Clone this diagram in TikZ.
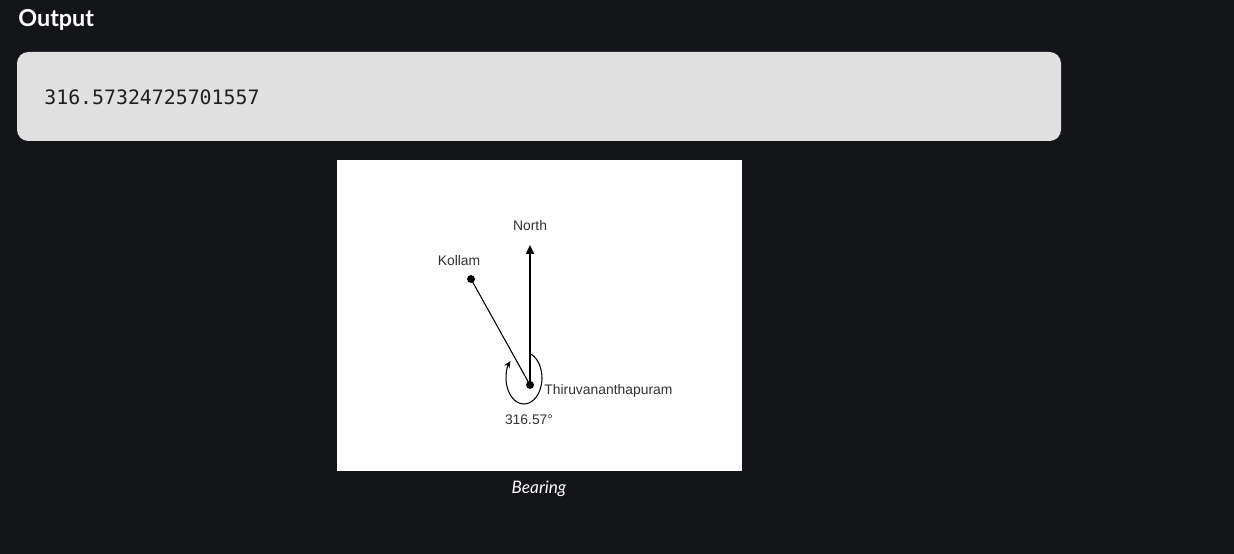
\documentclass[tikz,border=0pt]{standalone}
\usepackage{fontspec}
\setmainfont{Liberation Sans}
\newfontfamily\headfont{Lato}
\newfontfamily\codefont{DejaVu Sans Mono}
\usetikzlibrary{arrows.meta}
\definecolor{bgdark}{HTML}{141519}
\definecolor{boxgray}{HTML}{E0E0E0}
\definecolor{labelgray}{HTML}{333333}
\tikzset{
  lbl/.style={font=\fontsize{7.9pt}{9pt}\selectfont, text=labelgray, inner sep=0pt},
  pt/.style={circle, fill=black, inner sep=0pt, minimum size=4.5pt},
  ray/.style={draw=black, line width=0.6pt},
}
\begin{document}
\begin{tikzpicture}[x=0.02cm, y=-0.02cm]
\useasboundingbox (0,0) rectangle (1234,554);
\fill[bgdark] (0,0) rectangle (1234,554);
\node[anchor=base west, inner sep=0pt, text=white, font=\headfont\bfseries\fontsize{13.3pt}{15pt}\selectfont] (out) at (18,26.5) {Output};
\fill[boxgray, rounded corners=6.5pt] (17,52) rectangle (1061,141);
\node[anchor=west, inner sep=0pt, text=black!88, font=\codefont\fontsize{11.3pt}{13pt}\selectfont] (val) at (44,97) {316.57324725701557};
\fill[white] (337,160) rectangle (742,471);
\node[pt] (tvm) at (530,385) {};
\node[pt] (kol) at (471,279) {};
\coordinate (ntip) at (530,245);
\draw[ray, -{Triangle[length=5pt,width=4.5pt]}] (tvm.center) -- (ntip);
\draw[ray] (kol.center) -- (tvm.center);
\node[lbl] (nlab) at (530,226) {North};
\node[lbl] (klab) at (459,261) {Kollam};
\node[lbl, anchor=west] (tlab) at (544,391) {Thiruvananthapuram};
\node[lbl] (alab) at (529,420) {316.57°};
\draw[ray, -{Stealth[length=4pt,width=3.5pt]}] (524,378) ++(-66:18 and 26) arc[start angle=-66, end angle=221, x radius=18, y radius=26];
\node[inner sep=0pt, text=white, font=\headfont\itshape\fontsize{9.8pt}{11pt}\selectfont] (cap) at (539,489) {Bearing};
\end{tikzpicture}
\end{document}
